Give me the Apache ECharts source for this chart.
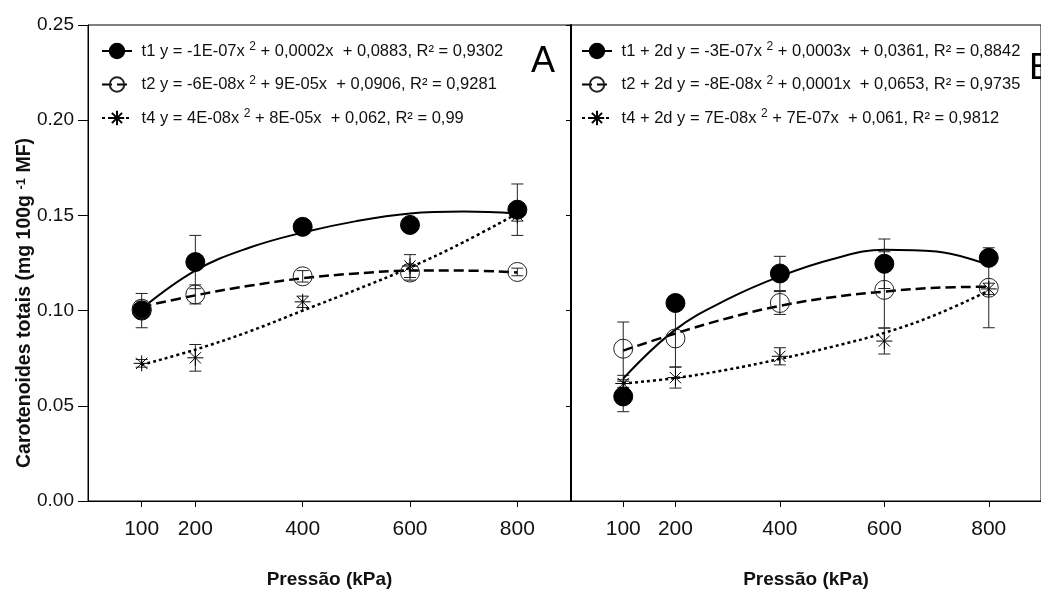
<!DOCTYPE html>
<html>
<head>
<meta charset="utf-8">
<script src="https://cdn.jsdelivr.net/npm/echarts@6/dist/echarts.min.js"></script>
<style>
html,body{margin:0;padding:0;background:#fff;}
#chart{width:1041px;height:594px;}
</style>
</head>
<body>
<div id="chart"></div>
<script>
// ---------- data ----------
const pressures = [100, 200, 400, 600, 800];
const fitX = [100, 200, 300, 400, 500, 600, 700, 800];
const xTicks = [100, 200, 400, 600, 800];
const yTicks = [0, 0.05, 0.10, 0.15, 0.20, 0.25];

// Panel A
const A_t1 = [0.100, 0.1255, 0.144, 0.145, 0.153];
const A_t1_sd = [0.009, 0.014, 0.003, 0.003, 0.0135];
const A_t2 = [0.101, 0.1085, 0.118, 0.120, 0.1203];
const A_t2_sd = [0.004, 0.005, 0.003, 0.004, 0.002];
const A_t4 = [0.0723, 0.0752, 0.1046, 0.1234, 0.150];
const A_t4_sd = [0.002, 0.007, 0.003, 0.006, 0.003];
const A_t1_fit = [0.101, 0.121, 0.133, 0.141, 0.147, 0.151, 0.152, 0.151];
const A_t2_fit = [0.102, 0.108, 0.113, 0.117, 0.1195, 0.121, 0.121, 0.120];
const A_t4_fit = [0.0715, 0.0795, 0.089, 0.100, 0.111, 0.1226, 0.136, 0.151];

// Panel B
const B_t1 = [0.0549, 0.104, 0.1195, 0.1246, 0.1277];
const B_t1_sd = [0.008, 0.003, 0.009, 0.013, 0.003];
const B_t2 = [0.080, 0.0854, 0.104, 0.1109, 0.112];
const B_t2_sd = [0.014, 0.015, 0.006, 0.020, 0.021];
const B_t4 = [0.0617, 0.0648, 0.076, 0.084, 0.1114];
const B_t4_sd = [0.002, 0.0055, 0.0045, 0.0068, 0.003];
const B_t1_fit = [0.0643, 0.090, 0.106, 0.118, 0.127, 0.132, 0.131, 0.124];
const B_t2_fit = [0.079, 0.088, 0.096, 0.1025, 0.107, 0.110, 0.112, 0.1125];
const B_t4_fit = [0.0617, 0.0646, 0.069, 0.0746, 0.081, 0.0883, 0.098, 0.1105];

const A_names = [
  't1 y = -1E-07x^2 + 0,0002x  + 0,0883, R² = 0,9302',
  't2 y = -6E-08x^2 + 9E-05x  + 0,0906, R² = 0,9281',
  't4 y = 4E-08x^2 + 8E-05x  + 0,062, R² = 0,99'
];
const B_names = [
  't1 + 2d y = -3E-07x^2 + 0,0003x  + 0,0361, R² = 0,8842',
  't2 + 2d y = -8E-08x^2 + 0,0001x  + 0,0653, R² = 0,9735',
  't4 + 2d y = 7E-08x^2 + 7E-07x  + 0,061, R² = 0,9812'
];
const panelLetters = ['A', 'B'];
const xTitle = 'Pressão (kPa)';
const yTitle = 'Carotenoides totais (mg 100g {sup|-1} MF)';

// ---------- styles ----------
const SANS = '"Liberation Sans", Arial, sans-serif';
const starPath = 'path://M0,-10L0,10M-10,0L10,0M-7.07,-7.07L7.07,7.07M-7.07,7.07L7.07,-7.07';
const markerDefs = [
  { symbol: 'circle', size: 19, itemStyle: { color: '#000', borderColor: '#000', borderWidth: 1, opacity: 1 } },
  { symbol: 'circle', size: 19, itemStyle: { color: 'rgba(255,255,255,0)', borderColor: '#222', borderWidth: 1, opacity: 1 } },
  { symbol: starPath, size: 16, itemStyle: { color: 'rgba(255,255,255,0)', borderColor: '#000', borderWidth: 1, opacity: 1 } }
];
const lineDefs = [
  { type: 'solid', width: 2 },
  { type: [10, 5], width: 2.5 },
  { type: [3, 3], width: 2.5 }
];

function pairs(xs, ys) { return xs.map((x, i) => [x, ys[i]]); }
function errData(xs, ys, sd) { return xs.map((x, i) => [x, ys[i] - sd[i], ys[i] + sd[i]]); }

function errRender(params, api) {
  const x = api.value(0);
  const lo = api.coord([x, api.value(1)]);
  const hi = api.coord([x, api.value(2)]);
  const w = 6;
  const st = { stroke: '#222', lineWidth: 1 };
  return {
    type: 'group',
    children: [
      { type: 'line', shape: { x1: lo[0], y1: lo[1], x2: hi[0], y2: hi[1] }, style: st },
      { type: 'line', shape: { x1: lo[0] - w, y1: lo[1], x2: lo[0] + w, y2: lo[1] }, style: st },
      { type: 'line', shape: { x1: hi[0] - w, y1: hi[1], x2: hi[0] + w, y2: hi[1] }, style: st }
    ]
  };
}

const series = [];
function addPanel(idx, names, vals, sds, fits) {
  for (let k = 0; k < 3; k++) {
    series.push({
      type: 'custom', xAxisIndex: idx, yAxisIndex: idx, z: 2, silent: true,
      renderItem: errRender, data: errData(pressures, vals[k], sds[k])
    });
  }
  for (let k = 0; k < 3; k++) {
    series.push({
      name: names[k], type: 'line', xAxisIndex: idx, yAxisIndex: idx, z: 3,
      smooth: 0.4, showSymbol: false, symbol: markerDefs[k].symbol, silent: true,
      itemStyle: markerDefs[k].itemStyle,
      lineStyle: { color: '#000', type: lineDefs[k].type, width: lineDefs[k].width },
      data: pairs(fitX, fits[k])
    });
  }
  for (let k = 0; k < 3; k++) {
    series.push({
      type: 'scatter', xAxisIndex: idx, yAxisIndex: idx, z: 4, silent: true,
      symbol: markerDefs[k].symbol, symbolSize: markerDefs[k].size,
      itemStyle: markerDefs[k].itemStyle,
      data: pairs(pressures, vals[k])
    });
  }
}
addPanel(0, A_names, [A_t1, A_t2, A_t4], [A_t1_sd, A_t2_sd, A_t4_sd], [A_t1_fit, A_t2_fit, A_t4_fit]);
addPanel(1, B_names, [B_t1, B_t2, B_t4], [B_t1_sd, B_t2_sd, B_t4_sd], [B_t1_fit, B_t2_fit, B_t4_fit]);

function xAxisDef(idx) {
  return {
    gridIndex: idx, type: 'value', min: 0, max: 900,
    name: xTitle, nameLocation: 'middle', nameGap: 69,
    nameTextStyle: { fontFamily: SANS, fontWeight: 'bold', fontSize: 19, color: '#111' },
    axisLine: { show: true, lineStyle: { color: '#000', width: 1 } },
    axisTick: { show: true, length: 6, customValues: xTicks, lineStyle: { color: '#000' } },
    axisLabel: { customValues: xTicks, margin: 18, fontFamily: SANS, fontSize: 21, color: '#111' },
    splitLine: { show: false }
  };
}
function yAxisDef(idx) {
  return {
    gridIndex: idx, type: 'value', min: 0, max: 0.25, interval: 0.05,
    axisLine: { show: true, onZero: false, lineStyle: { color: '#000', width: idx === 0 ? 1 : 2 } },
    axisTick: { show: true, length: idx === 0 ? 10 : 5, lineStyle: { color: '#000' } },
    axisLabel: {
      show: idx === 0, margin: 14, fontFamily: SANS, fontSize: 19, color: '#111',
      formatter: v => yTicks.reduce((a, t) => Math.abs(t - v) < 1e-9 ? t.toFixed(2) : a, v.toFixed(2))
    },
    splitLine: { show: false }
  };
}
function legendDef(left, names) {
  return {
    orient: 'vertical', left: left, top: 36, itemGap: 13.5,
    itemWidth: 30, itemHeight: 18, selectedMode: false,
    data: names,
    formatter: n => ' ' + n.replace('^2', ' {sup|2}'),
    textStyle: {
      fontFamily: SANS, fontSize: 16.5, color: '#111', lineHeight: 20,
      rich: { sup: { fontSize: 12, fontFamily: SANS, color: '#111', verticalAlign: 'top', lineHeight: 12 } }
    }
  };
}

const chart = echarts.init(document.getElementById('chart'), null, { renderer: 'canvas' });
chart.setOption({
  backgroundColor: '#fff',
  animation: false,
  grid: [
    { left: 88, top: 25, width: 483, height: 487, show: true, borderColor: '#000', borderWidth: 1, backgroundColor: 'transparent' },
    { left: 571, top: 25, width: 483, height: 487, show: true, borderColor: '#000', borderWidth: 1, backgroundColor: 'transparent' }
  ],
  xAxis: [xAxisDef(0), xAxisDef(1)],
  yAxis: [yAxisDef(0), yAxisDef(1)],
  legend: [legendDef(96, A_names), legendDef(576, B_names)],
  graphic: [
    {
      type: 'text', x: 25, y: 303, rotation: Math.PI / 2,
      style: {
        text: yTitle, fontFamily: SANS, fontWeight: 'bold', fontSize: 19.5, fill: '#111',
        align: 'center', verticalAlign: 'middle',
        rich: { sup: { fontSize: 13, fontFamily: SANS, fontWeight: 'bold', fill: '#111', verticalAlign: 'top', lineHeight: 12 } }
      }
    },
    { type: 'text', left: 531, top: 44, style: { text: panelLetters[0], fontFamily: SANS, fontSize: 36, fill: '#000' } },
    { type: 'text', left: 1029, top: 51, style: { text: panelLetters[1], fontFamily: SANS, fontSize: 36, fill: '#000' } }
  ],
  series: series
});
</script>
</body>
</html>
